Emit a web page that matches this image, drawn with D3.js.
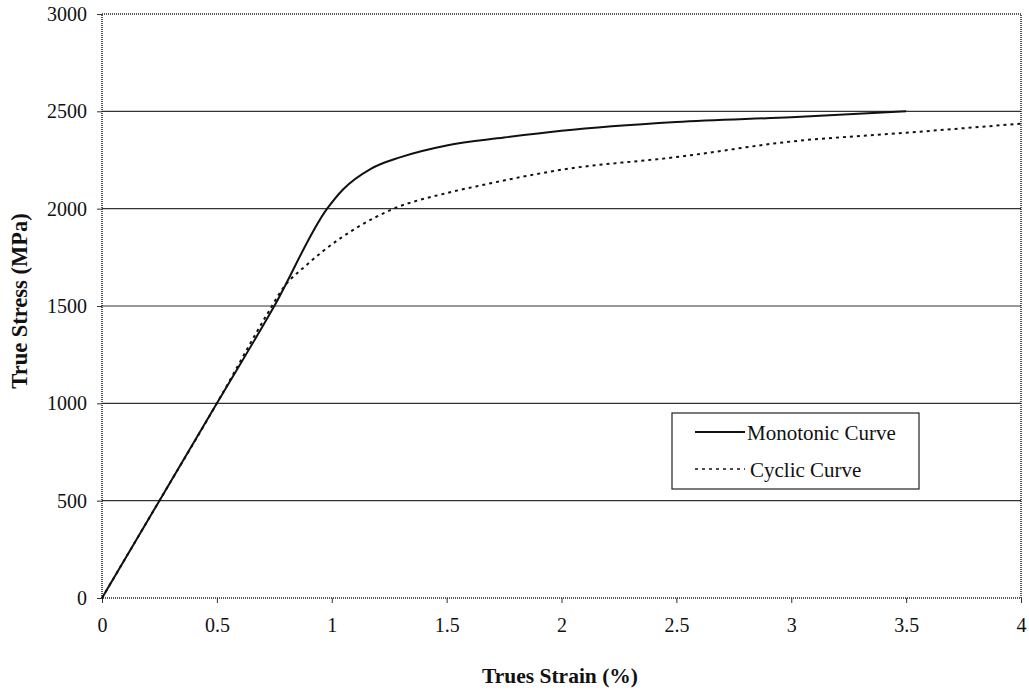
<!DOCTYPE html>
<html>
<head>
<meta charset="utf-8">
<script src="https://cdn.jsdelivr.net/npm/d3@7"></script>
<style>
  body { margin: 0; background: #fff; }
  text { font-family: "Liberation Serif", "Times New Roman", serif; fill: #111; }
</style>
</head>
<body>
<script>
// strain (%) and stress (MPa)
var monoStrain = [0, 0.25, 0.5, 0.75, 0.98, 1.05, 1.17, 1.3, 1.5, 1.75, 2.0, 2.5, 3.0, 3.5];
var monoStress = [0, 500, 1000, 1500, 2000, 2100, 2205, 2265, 2325, 2365, 2400, 2445, 2470, 2500];

var cycStrain = [0, 0.25, 0.5, 0.72, 0.79, 0.89, 0.96, 1.12, 1.27, 1.5, 1.65, 2.0, 2.5, 3.0, 3.5, 4.0];
var cycStress = [0, 500, 1000, 1460, 1595, 1710, 1780, 1910, 2000, 2080, 2120, 2200, 2265, 2345, 2390, 2437];

var xTicks = [0, 0.5, 1, 1.5, 2, 2.5, 3, 3.5, 4];
var yTicks = [0, 500, 1000, 1500, 2000, 2500, 3000];

var legendLabels = ["Monotonic Curve", "Cyclic Curve"];

var width = 1029, height = 692;
var plot = {left: 102, right: 1021, top: 14, bottom: 598};

var svg = d3.select("body").append("svg")
  .attr("width", width)
  .attr("height", height);

var x = d3.scaleLinear().domain([0, 4]).range([plot.left, plot.right]);
var y = d3.scaleLinear().domain([0, 3000]).range([plot.bottom, plot.top]);

// gridlines
svg.append("g")
  .selectAll("line")
  .data(yTicks.filter(function(d) { return d > 0 && d < 3000; }))
  .enter().append("line")
  .attr("x1", plot.left).attr("x2", plot.right)
  .attr("y1", function(d) { return y(d); })
  .attr("y2", function(d) { return y(d); })
  .attr("stroke", "#333")
  .attr("stroke-width", 1.2);

// frame
svg.append("rect")
  .attr("x", plot.left).attr("y", plot.top)
  .attr("width", plot.right - plot.left)
  .attr("height", plot.bottom - plot.top)
  .attr("fill", "none")
  .attr("stroke", "#222")
  .attr("stroke-width", 1.5)
  .attr("stroke-dasharray", "1,1");

// axes
var yAxis = d3.axisLeft(y).tickValues(yTicks).tickSize(5).tickPadding(10).tickFormat(d3.format("d"));
var xAxis = d3.axisBottom(x).tickValues(xTicks).tickSize(5).tickPadding(15).tickFormat(function(d) { return String(d); });

var gy = svg.append("g").attr("transform", "translate(" + plot.left + ",0)").call(yAxis);
var gx = svg.append("g").attr("transform", "translate(0," + plot.bottom + ")").call(xAxis);

[gy, gx].forEach(function(g) {
  g.select(".domain").remove();
  g.selectAll(".tick line").attr("stroke", "#333");
  g.selectAll(".tick text")
    .attr("font-family", "Liberation Serif, serif")
    .attr("font-size", 20)
    .attr("fill", "#111");
});

// axis titles
svg.append("text")
  .attr("x", 560).attr("y", 683)
  .attr("text-anchor", "middle")
  .attr("font-size", 21.5).attr("font-weight", "bold")
  .text("Trues Strain (%)");

svg.append("text")
  .attr("transform", "translate(27,301) rotate(-90)")
  .attr("text-anchor", "middle")
  .attr("font-size", 22.5).attr("font-weight", "bold")
  .text("True Stress (MPa)");

// curves
var line = d3.line()
  .x(function(d) { return x(d[0]); })
  .y(function(d) { return y(d[1]); })
  .curve(d3.curveMonotoneX);

var mono = d3.zip(monoStrain, monoStress);
var cyc = d3.zip(cycStrain, cycStress);

svg.append("path")
  .datum(cyc)
  .attr("d", line)
  .attr("fill", "none")
  .attr("stroke", "#111")
  .attr("stroke-width", 2)
  .attr("stroke-dasharray", "3,4");

svg.append("path")
  .datum(mono)
  .attr("d", line)
  .attr("fill", "none")
  .attr("stroke", "#111")
  .attr("stroke-width", 2);

// legend
var legend = svg.append("g").attr("transform", "translate(672,413)");

legend.append("rect")
  .attr("width", 247).attr("height", 76)
  .attr("fill", "#fff")
  .attr("stroke", "#222")
  .attr("stroke-width", 1.2);

legendLabels.forEach(function(label, i) {
  var ly = 19 + i * 37;
  legend.append("line")
    .attr("x1", 23).attr("x2", 73)
    .attr("y1", ly).attr("y2", ly)
    .attr("stroke", "#111")
    .attr("stroke-width", i === 0 ? 2 : 1.5)
    .attr("stroke-dasharray", i === 0 ? null : "3,4");
  legend.append("text")
    .attr("x", 75 + i * 3).attr("y", ly + 8)
    .attr("font-size", 21)
    .text(label);
});
</script>
</body>
</html>
